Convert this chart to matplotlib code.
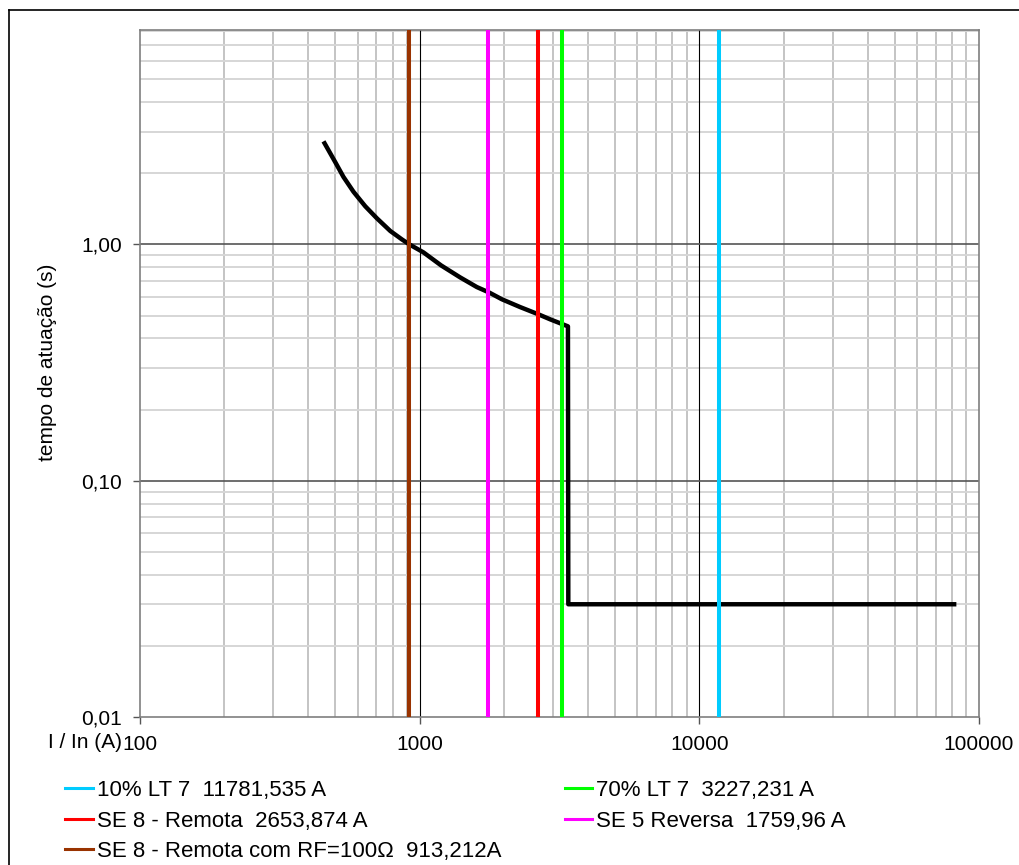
import matplotlib
matplotlib.use("Agg")
import matplotlib.pyplot as plt
from matplotlib.lines import Line2D
from matplotlib.ticker import FixedLocator, LogLocator, NullFormatter

plt.rcParams['font.family'] = ['Liberation Sans', 'DejaVu Sans']

# ---- data ----
curve_current = [453, 499, 534, 580, 639, 703, 785, 864, 919, 1032, 1193, 1396, 1601,
                 1776, 1967, 2287, 2658, 2927, 3265, 3390, 3400, 83000]
curve_time = [2.73, 2.23, 1.93, 1.67, 1.45, 1.29, 1.14, 1.05, 1.0, 0.925, 0.815, 0.725, 0.66,
              0.625, 0.586, 0.543, 0.506, 0.482, 0.458, 0.450, 0.03, 0.03]

fault_labels = ["10% LT 7  11781,535 A", "SE 8 - Remota  2653,874 A", "SE 8 - Remota com RF=100Ω  913,212A",
                "70% LT 7  3227,231 A", "SE 5 Reversa  1759,96 A"]
fault_currents = [11781.535, 2653.874, 913.212, 3227.231, 1759.96]
fault_colors = ["#00CCFF", "#FF0000", "#993300", "#00FF00", "#FF00FF"]

x_ticks = [100, 1000, 10000, 100000]
x_ticklabels = ["100", "1000", "10000", "100000"]
y_ticks = [0.01, 0.1, 1.0]
y_ticklabels = ["0,01", "0,10", "1,00"]

W, H = 1020, 865
fig = plt.figure(figsize=(W / 100, H / 100), dpi=100)
ax = fig.add_axes([140 / W, 1 - 717 / H, (979 - 140) / W, (717 - 30) / H])
ax.set_xscale('log')
ax.set_yscale('log')
ax.set_xlim(100, 100000)
ax.set_ylim(0.01, 8.08)

# minor grid
ax.xaxis.set_minor_locator(LogLocator(base=10, subs=range(2, 10)))
ax.yaxis.set_minor_locator(LogLocator(base=10, subs=range(2, 10)))
ax.xaxis.set_minor_formatter(NullFormatter())
ax.yaxis.set_minor_formatter(NullFormatter())
ax.grid(which='minor', axis='x', color='#c4c4c4', linewidth=1.4)
ax.grid(which='minor', axis='y', color='#d6d6d6', linewidth=1.4)
ax.set_axisbelow(True)

# major grid on top of minor grid
for xv in x_ticks[1:-1]:
    ax.axvline(xv, color='#000000', linewidth=0.8, zorder=1)
for yv in y_ticks[1:]:
    ax.axhline(yv, color='#555555', linewidth=1.2, zorder=1)

ax.xaxis.set_major_locator(FixedLocator(x_ticks))
ax.set_xticklabels(x_ticklabels)
ax.yaxis.set_major_locator(FixedLocator(y_ticks))
ax.set_yticklabels(y_ticklabels)
ax.tick_params(which='major', length=5, width=1.0, color='#555555', labelsize=15, pad=8)
ax.tick_params(which='minor', length=0)

for s in ax.spines.values():
    s.set_color('#7f7f7f')
    s.set_linewidth(1.2)

# curve
ax.plot(curve_current, curve_time, color='black', linewidth=3.2,
        solid_joinstyle='round', solid_capstyle='butt', zorder=3)

# fault lines
handles = []
for xv, c, lab in zip(fault_currents, fault_colors, fault_labels):
    ax.axvline(xv, color=c, linewidth=2.9, zorder=4)
    handles.append(Line2D([0], [0], color=c, linewidth=2.2, label=lab))

leg = fig.legend(handles=handles, ncol=2, loc='upper left',
                 bbox_to_anchor=(65 / W, 1 - 780 / H), frameon=False,
                 fontsize=16, handlelength=1.25, handletextpad=0.18,
                 columnspacing=2.85, labelspacing=0.43, borderpad=0, borderaxespad=0)

fig.text(122 / W, 1 - 743 / H, "I / In (A)", ha='right', va='center', fontsize=15)
fig.text(48 / W, 1 - 362 / H, "tempo de atuação (s)", ha='center', va='center',
         rotation=90, fontsize=15)

# outer frame
fig.add_artist(Line2D([9.5 / W, 9.5 / W], [1 - 9.5 / H, 0], transform=fig.transFigure, color='black', linewidth=1.2))
fig.add_artist(Line2D([9.5 / W, 1], [1 - 9.5 / H, 1 - 9.5 / H], transform=fig.transFigure, color='black', linewidth=1.2))

fig.savefig("out.png", dpi=100)
